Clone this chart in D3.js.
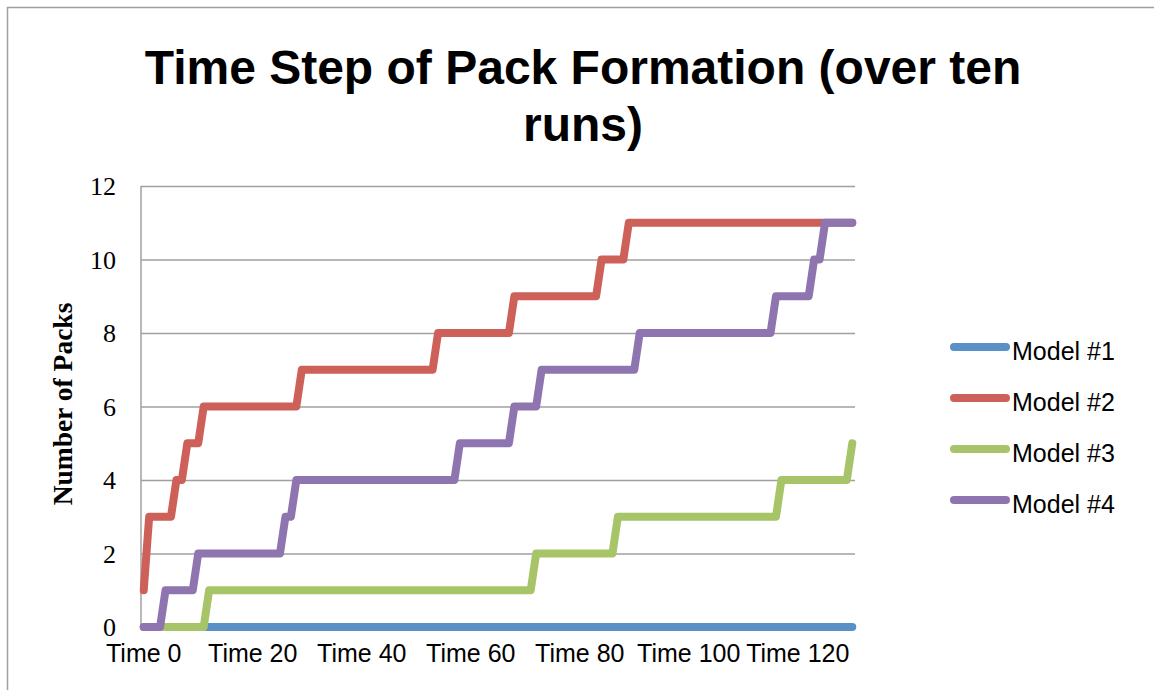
<!DOCTYPE html>
<html>
<head>
<meta charset="utf-8">
<script src="https://cdn.jsdelivr.net/npm/d3@7"></script>
<style>
  html, body { margin: 0; padding: 0; background: #fff; }
  svg { display: block; }
</style>
</head>
<body>
<svg id="chart" width="1154" height="690"></svg>
<script>
// ---- data ----
const titleLines = ["Time Step of Pack Formation (over ten", "runs)"];
const yAxisTitle = "Number of Packs";
const categories = d3.range(0, 131).map(i => "Time " + i);
const xTickLabels = ["Time 0", "Time 20", "Time 40", "Time 60", "Time 80", "Time 100", "Time 120"];
const yTicks = [0, 2, 4, 6, 8, 10, 12];
const seriesNames = ["Model #1", "Model #2", "Model #3", "Model #4"];

const model1 = [
  0,0,0,0,0,0,0,0,0,0, 0,0,0,0,0,0,0,0,0,0,
  0,0,0,0,0,0,0,0,0,0, 0,0,0,0,0,0,0,0,0,0,
  0,0,0,0,0,0,0,0,0,0, 0,0,0,0,0,0,0,0,0,0,
  0,0,0,0,0,0,0,0,0,0, 0,0,0,0,0,0,0,0,0,0,
  0,0,0,0,0,0,0,0,0,0, 0,0,0,0,0,0,0,0,0,0,
  0,0,0,0,0,0,0,0,0,0, 0,0,0,0,0,0,0,0,0,0,
  0,0,0,0,0,0,0,0,0,0, 0
];
const model2 = [
  1,3,3,3,3,3,4,4,5,5, 5,6,6,6,6,6,6,6,6,6,
  6,6,6,6,6,6,6,6,6,7, 7,7,7,7,7,7,7,7,7,7,
  7,7,7,7,7,7,7,7,7,7, 7,7,7,7,8,8,8,8,8,8,
  8,8,8,8,8,8,8,8,9,9, 9,9,9,9,9,9,9,9,9,9,
  9,9,9,9,10,10,10,10,10,11, 11,11,11,11,11,11,11,11,11,11,
  11,11,11,11,11,11,11,11,11,11, 11,11,11,11,11,11,11,11,11,11,
  11,11,11,11,11,11,11,11,11,11, 11
];
const model3 = [
  0,0,0,0,0,0,0,0,0,0, 0,0,1,1,1,1,1,1,1,1,
  1,1,1,1,1,1,1,1,1,1, 1,1,1,1,1,1,1,1,1,1,
  1,1,1,1,1,1,1,1,1,1, 1,1,1,1,1,1,1,1,1,1,
  1,1,1,1,1,1,1,1,1,1, 1,1,2,2,2,2,2,2,2,2,
  2,2,2,2,2,2,2,3,3,3, 3,3,3,3,3,3,3,3,3,3,
  3,3,3,3,3,3,3,3,3,3, 3,3,3,3,3,3,3,4,4,4,
  4,4,4,4,4,4,4,4,4,4, 5
];
const model4 = [
  0,0,0,0,1,1,1,1,1,1, 2,2,2,2,2,2,2,2,2,2,
  2,2,2,2,2,2,3,3,4,4, 4,4,4,4,4,4,4,4,4,4,
  4,4,4,4,4,4,4,4,4,4, 4,4,4,4,4,4,4,4,5,5,
  5,5,5,5,5,5,5,5,6,6, 6,6,6,7,7,7,7,7,7,7,
  7,7,7,7,7,7,7,7,7,7, 7,8,8,8,8,8,8,8,8,8,
  8,8,8,8,8,8,8,8,8,8, 8,8,8,8,8,8,9,9,9,9,
  9,9,9,10,10,11,11,11,11,11, 11
];
const seriesValues = [model1, model2, model3, model4];
const seriesColors = ["#5A90C8", "#CD6058", "#A8C468", "#8F75B0"];

// ---- layout ----
const plot = { left: 141, right: 855, top: 186, bottom: 627 };
const svg = d3.select("#chart");

// outer chart frame
svg.append("rect")
  .attr("x", 7.5).attr("y", 7.5)
  .attr("width", 1160).attr("height", 700)
  .attr("fill", "#fff")
  .attr("stroke", "#a0a0a0").attr("stroke-width", 1.5);

const x = d3.scaleBand().domain(categories).range([plot.left, plot.right]).padding(0);
const y = d3.scaleLinear().domain([0, 12]).range([plot.bottom, plot.top]);
const cx = c => x(c) + x.bandwidth() / 2;

// horizontal gridlines
const grid = svg.append("g")
  .attr("transform", `translate(${plot.left},0)`)
  .call(d3.axisLeft(y).tickValues(yTicks).tickSize(-(plot.right - plot.left)).tickFormat(""));
grid.select(".domain").remove();
grid.selectAll(".tick line").attr("stroke", "#a0a0a0").attr("stroke-width", 1.5);

// vertical axis line
svg.append("line")
  .attr("x1", plot.left).attr("x2", plot.left)
  .attr("y1", plot.top).attr("y2", plot.bottom)
  .attr("stroke", "#a0a0a0").attr("stroke-width", 1.5);

// y tick labels
const yAxis = svg.append("g")
  .attr("transform", `translate(${plot.left - 25},0)`)
  .call(d3.axisLeft(y).tickValues(yTicks).tickSize(0).tickPadding(0));
yAxis.select(".domain").remove();
yAxis.selectAll("text")
  .attr("font-family", "'Liberation Serif', 'Times New Roman', serif")
  .attr("font-size", 26)
  .attr("fill", "#000")
  .attr("dy", "0.34em");

// x tick labels
const xAxis = svg.append("g")
  .attr("transform", `translate(0,${plot.bottom})`)
  .call(d3.axisBottom(x).tickValues(xTickLabels).tickSize(0).tickPadding(0));
xAxis.select(".domain").remove();
xAxis.selectAll("text")
  .attr("font-family", "'Liberation Sans', Arial, sans-serif")
  .attr("font-size", 25)
  .attr("fill", "#000")
  .attr("dy", null)
  .attr("y", 35);

// y axis title
svg.append("text")
  .attr("transform", `translate(72,404) rotate(-90)`)
  .attr("text-anchor", "middle")
  .attr("font-family", "'Liberation Serif', 'Times New Roman', serif")
  .attr("font-weight", "bold")
  .attr("font-size", 27.5)
  .text(yAxisTitle);

// chart title
svg.append("g").selectAll("text")
  .data(titleLines)
  .join("text")
  .attr("x", 583)
  .attr("y", (d, i) => 84 + i * 57)
  .attr("text-anchor", "middle")
  .attr("font-family", "'Liberation Sans', Arial, sans-serif")
  .attr("font-weight", "bold")
  .attr("font-size", 48)
  .text(d => d);

// series lines
const line = d3.line()
  .x((d, i) => cx(categories[i]))
  .y(d => y(d));

svg.append("g").selectAll("path")
  .data(seriesValues)
  .join("path")
  .attr("d", d => line(d))
  .attr("fill", "none")
  .attr("stroke", (d, i) => seriesColors[i])
  .attr("stroke-width", 8)
  .attr("stroke-linecap", "round")
  .attr("stroke-linejoin", "round");

// legend
const legend = svg.append("g").selectAll("g")
  .data(seriesNames)
  .join("g")
  .attr("transform", (d, i) => `translate(0,${347 + i * 51})`);
legend.append("line")
  .attr("x1", 954).attr("x2", 1006)
  .attr("stroke", (d, i) => seriesColors[i])
  .attr("stroke-width", 8)
  .attr("stroke-linecap", "round");
legend.append("text")
  .attr("x", 1012).attr("y", 12.5)
  .attr("font-family", "'Liberation Sans', Arial, sans-serif")
  .attr("font-size", 25)
  .attr("fill", "#000")
  .text(d => d);
</script>
</body>
</html>
